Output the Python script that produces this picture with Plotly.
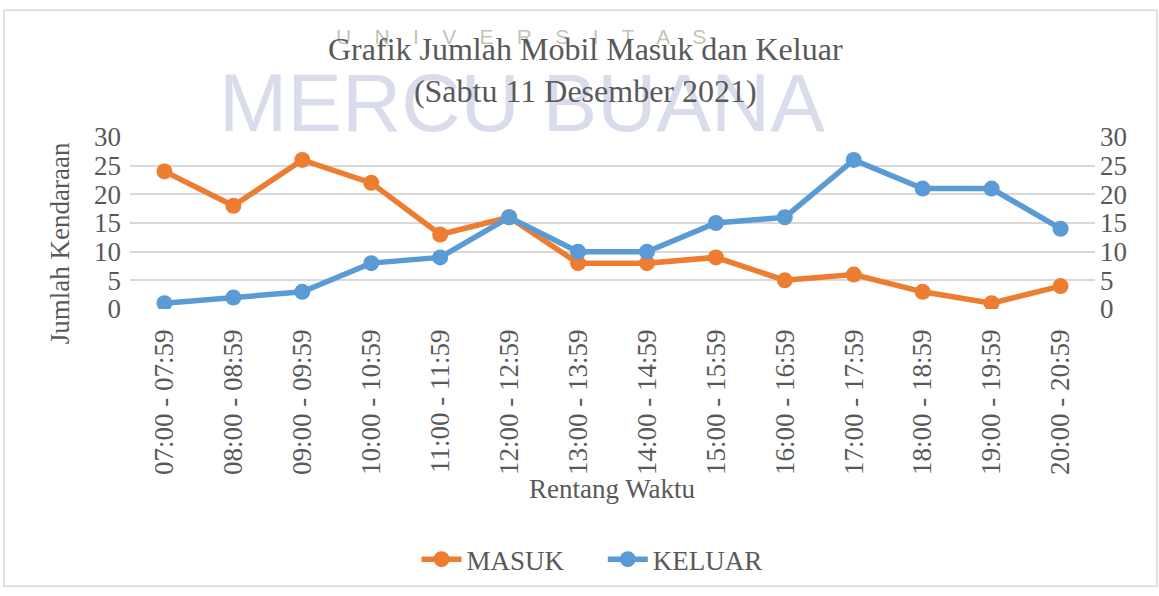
import plotly.graph_objects as go

categories = ["07:00 - 07:59", "08:00 - 08:59", "09:00 - 09:59", "10:00 - 10:59",
              "11:00 - 11:59", "12:00 - 12:59", "13:00 - 13:59", "14:00 - 14:59",
              "15:00 - 15:59", "16:00 - 16:59", "17:00 - 17:59", "18:00 - 18:59",
              "19:00 - 19:59", "20:00 - 20:59"]
masuk = [24, 18, 26, 22, 13, 16, 8, 8, 9, 5, 6, 3, 1, 4]
keluar = [1, 2, 3, 8, 9, 16, 10, 10, 15, 16, 26, 21, 21, 14]
y_ticks = [0, 5, 10, 15, 20, 25, 30]

FONT = "Liberation Serif, Times New Roman, serif"
GRAY = "#595959"
ORANGE = "#ED7D31"
BLUE = "#5B9BD5"

W, H = 1159, 596
L, R, T, B = 130, 64, 137, 284

fig = go.Figure()
fig.add_trace(go.Scatter(x=categories, y=masuk, name="MASUK     ", mode="lines+markers",
                         line=dict(color=ORANGE, width=5.5),
                         marker=dict(color=ORANGE, size=16)))
fig.add_trace(go.Scatter(x=categories, y=keluar, name="KELUAR", mode="lines+markers",
                         line=dict(color=BLUE, width=5.5),
                         marker=dict(color=BLUE, size=16), yaxis="y2"))

pw = W - L - R
ph = H - T - B

def px_x(x):
    return (x - L) / pw

def px_y(y):
    return (H - B - y) / ph

fig.update_layout(
    width=W, height=H,
    margin=dict(l=L, r=R, t=T, b=B),
    paper_bgcolor="white", plot_bgcolor="white",
    font=dict(family=FONT, size=27, color=GRAY),
    showlegend=True,
    legend=dict(orientation="h", x=px_x(592), xanchor="center", y=px_y(567), yanchor="middle",
                font=dict(size=27, color=GRAY), bgcolor="rgba(0,0,0,0)",
                itemwidth=40, tracegroupgap=0),
    xaxis=dict(type="category", tickangle=-90, showgrid=False, showline=False,
               ticks="", ticklabelstandoff=14, tickfont=dict(size=27, color=GRAY),
               range=[-0.5, len(categories) - 0.5], zeroline=False),
    yaxis=dict(range=[0, 30], tickvals=y_ticks, showgrid=True, gridcolor="#D9D9D9",
               gridwidth=1.5, zeroline=False, showline=False, ticks="",
               ticklabelstandoff=8, tickfont=dict(size=27, color=GRAY)),
    yaxis2=dict(range=[0, 30], tickvals=y_ticks, overlaying="y", side="right",
                showgrid=False, zeroline=False, showline=False, ticks="",
                ticklabelstandoff=4, tickfont=dict(size=27, color=GRAY)),
)

def ann(text, x, y, size, color, family=FONT, angle=0):
    return dict(text=text, x=px_x(x), y=px_y(y), xref="paper", yref="paper",
                xanchor="center", yanchor="middle", showarrow=False, textangle=angle,
                font=dict(family=family, size=size, color=color))

annotations = [
    ann("U    N    I    V    E    R    S    I    T    A    S", 521, 35, 21, "rgba(165,180,160,0.75)",
        family="Liberation Sans, Arial, sans-serif"),
    ann("MERCU BUANA", 522, 102, 82, "rgba(180,185,215,0.5)",
        family="Liberation Sans Narrow, Liberation Sans, Arial, sans-serif"),
    ann("Grafik Jumlah Mobil Masuk dan Keluar<br>(Sabtu 11 Desember 2021)", 585, 69, 32, GRAY),
    ann("Jumlah Kendaraan", 60, 245, 27, GRAY, angle=-90),
    ann("Rentang Waktu", 612, 495, 27, GRAY),
]
fig.update_layout(annotations=annotations)

fig.add_shape(type="rect", xref="paper", yref="paper",
              x0=px_x(4), x1=px_x(1157), y0=px_y(594), y1=px_y(8),
              line=dict(color="#D9D9D9", width=1.5), fillcolor="rgba(0,0,0,0)", layer="below")

fig.write_html("out.html", config={"displayModeBar": False},
               post_script="document.body.style.margin='0px';")
